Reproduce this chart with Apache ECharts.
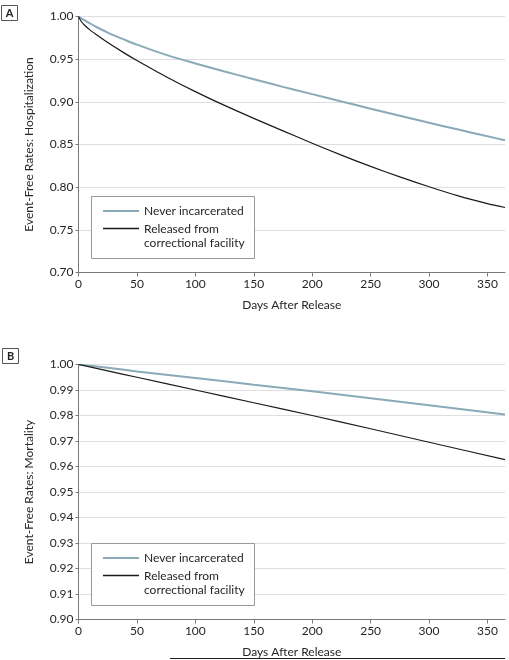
<!DOCTYPE html>
<html>
<head>
<meta charset="utf-8">
<script src="https://cdn.jsdelivr.net/npm/echarts@6/dist/echarts.min.js"></script>
<style>
html,body{margin:0;padding:0;background:#fff;}
#chart{width:509px;height:660px;}
</style>
</head>
<body>
<div id="chart"></div>
<script>
// ---- Data ----
const seriesNames = ['Never incarcerated', 'Released from\ncorrectional facility'];
const xTicks = [0, 50, 100, 150, 200, 250, 300, 350];
const yTicksA = [0.70, 0.75, 0.80, 0.85, 0.90, 0.95, 1.00];
const yTicksB = [0.90, 0.91, 0.92, 0.93, 0.94, 0.95, 0.96, 0.97, 0.98, 0.99, 1.00];

const daysA = [0, 2, 5, 10, 15, 25, 40, 50, 75, 100, 125, 150, 175, 200, 225, 250, 275, 300, 325, 350, 365];
const hospNever = [1.0, 0.9982, 0.9958, 0.9918, 0.9880, 0.9812, 0.9725, 0.9670, 0.9550, 0.9450, 0.9355, 0.9265, 0.9175, 0.9090, 0.9005, 0.8920, 0.8838, 0.8755, 0.8675, 0.8596, 0.8550];
const hospReleased = [1.0, 0.9950, 0.9900, 0.9840, 0.9790, 0.9695, 0.9565, 0.9485, 0.9295, 0.9120, 0.8958, 0.8806, 0.8660, 0.8515, 0.8375, 0.8243, 0.8120, 0.8005, 0.7898, 0.7808, 0.7762];

const daysB = [0, 25, 50, 100, 150, 200, 250, 300, 365];
const mortNever = [1.0, 0.9987, 0.9973, 0.9947, 0.9921, 0.9895, 0.9868, 0.9840, 0.9804];
const mortReleased = [1.0, 0.9975, 0.9950, 0.9900, 0.9850, 0.9800, 0.9748, 0.9695, 0.9627];

// ---- Style ----
const FONT = 'Lato';
const TXT = '#262626';
const COL_NEVER = '#8aaab8';
const COL_REL = '#1a1a1a';
const AXIS_COL = '#7a7a7a';
const GRID_COL = '#dedede';

function zip(xs, ys){ return xs.map((x,i)=>[x, ys[i]]); }

function xAxis(gridIndex){
  return {
    type:'value', gridIndex, min:0, max:365, interval:50,
    name:'Days After Release', nameLocation:'middle', nameGap:27,
    nameTextStyle:{fontFamily:FONT, fontSize:12, color:TXT},
    axisLine:{show:true, lineStyle:{color:AXIS_COL, width:1}},
    axisTick:{show:true, length:4, customValues:xTicks, lineStyle:{color:AXIS_COL}},
    axisLabel:{customValues:xTicks, fontFamily:FONT, fontSize:12, color:TXT, margin:6},
    splitLine:{show:false}
  };
}
function yAxis(gridIndex, min, interval, name, ticks){
  return {
    type:'value', gridIndex, min, max:1.0, interval,
    name, nameLocation:'middle', nameGap:43,
    nameTextStyle:{fontFamily:FONT, fontSize:12, color:TXT},
    axisLine:{show:true, lineStyle:{color:AXIS_COL, width:1}},
    axisTick:{show:true, length:3, customValues:ticks, lineStyle:{color:AXIS_COL}},
    axisLabel:{customValues:ticks, fontFamily:FONT, fontSize:12, color:TXT, margin:5,
      formatter:v=>Number(v).toFixed(2)},
    splitLine:{show:true, lineStyle:{color:GRID_COL, width:1}}
  };
}

function legendGraphic(top){
  return [
    {type:'rect', shape:{x:91.5, y:top, width:163, height:62}, style:{fill:'#fff', stroke:'#9a9a9a', lineWidth:1}, z:100},
    {type:'line', shape:{x1:103, y1:top+14.5, x2:139, y2:top+14.5}, style:{stroke:COL_NEVER, lineWidth:2}, z:101},
    {type:'text', x:144, y:top+14.5, style:{text:seriesNames[0], font:'12px '+FONT, fill:TXT, verticalAlign:'middle'}, z:101},
    {type:'line', shape:{x1:103, y1:top+32, x2:139, y2:top+32}, style:{stroke:COL_REL, lineWidth:1.3}, z:101},
    {type:'text', x:144, y:top+25, style:{text:seriesNames[1], font:'12px '+FONT, fill:TXT, lineHeight:14.7, verticalAlign:'top'}, z:101}
  ];
}
function panelLabel(x, y, t){
  return [
    {type:'rect', shape:{x:x, y:y, width:16, height:15}, style:{fill:'#fff', stroke:'#555', lineWidth:1}},
    {type:'text', x:x+8, y:y+8, style:{text:t, font:'bold 11px '+FONT, fill:'#222', align:'center', verticalAlign:'middle'}}
  ];
}

function lineSeries(name, xi, days, vals, color, width, z){
  return {name, type:'line', xAxisIndex:xi, yAxisIndex:xi, data:zip(days, vals),
    smooth:0.25, showSymbol:false, lineStyle:{color, width}, z};
}

const chart = echarts.init(document.getElementById('chart'), null, {renderer:'canvas'});
chart.setOption({
  animation:false,
  backgroundColor:'#fff',
  grid:[
    {left:78.5, right:4, top:16.5, height:256, containLabel:false},
    {left:78.5, right:4, top:364.5, height:255, containLabel:false}
  ],
  xAxis:[xAxis(0), xAxis(1)],
  yAxis:[
    yAxis(0, 0.70, 0.05, 'Event-Free Rates: Hospitalization', yTicksA),
    yAxis(1, 0.90, 0.01, 'Event-Free Rates: Mortality', yTicksB)
  ],
  series:[
    lineSeries(seriesNames[0], 0, daysA, hospNever, COL_NEVER, 2, 3),
    lineSeries(seriesNames[1], 0, daysA, hospReleased, COL_REL, 1.2, 4),
    lineSeries(seriesNames[0], 1, daysB, mortNever, COL_NEVER, 2, 3),
    lineSeries(seriesNames[1], 1, daysB, mortReleased, COL_REL, 1.2, 4)
  ],
  graphic:[].concat(
    panelLabel(1.5, 5.5, 'A'),
    panelLabel(2.5, 348.5, 'B'),
    legendGraphic(196.5),
    legendGraphic(543.5),
    [{type:'line', shape:{x1:170, y1:658.5, x2:505, y2:658.5}, style:{stroke:'#222', lineWidth:1}}]
  )
});
</script>
</body>
</html>
